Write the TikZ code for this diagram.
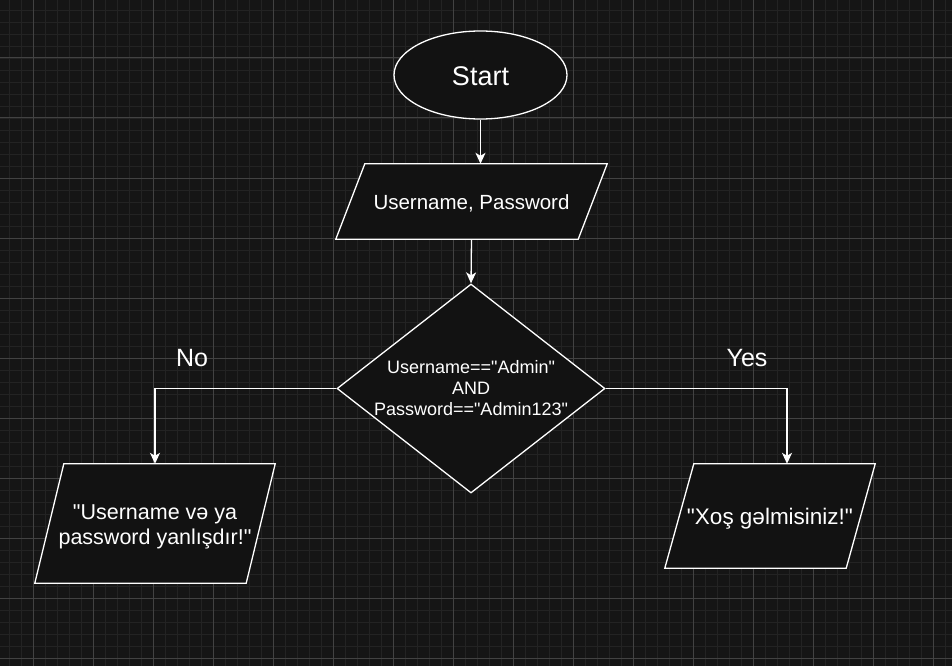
\documentclass[tikz,border=0pt]{standalone}
\usepackage{fontspec}
\setmainfont{Liberation Sans}[Ligatures=TeXOff]
\usetikzlibrary{shapes.geometric,arrows.meta,calc}
\pgfdeclarelayer{bg}
\pgfdeclarelayer{shp}
\pgfsetlayers{bg,shp,main}
\definecolor{bgc}{HTML}{151515}
\definecolor{shapefill}{HTML}{121212}
\definecolor{minorgrid}{HTML}{232323}
\definecolor{majorgrid}{HTML}{424242}
\begin{document}
\begin{tikzpicture}[x=1pt,y=-1pt,
  outline/.style={draw=white,line width=1.3pt,fill=shapefill},
  txt/.style={text=white,align=center,inner sep=0pt},
  conn/.style={draw=white,line width=1.3pt,-{Stealth[length=11pt,width=10pt,inset=3pt]}},
  lbl/.style={text=white,font=\fontsize{25}{30}\selectfont,inner sep=0pt}]
\useasboundingbox (0,0) rectangle (952,666);
\begin{pgfonlayer}{bg}
  \fill[bgc] (0,0) rectangle (952,666);
  \foreach \x in {9,21,...,945} \draw[minorgrid,line width=0.8pt] (\x,0) -- (\x,666);
  \foreach \y in {10,22,...,658} \draw[minorgrid,line width=0.8pt] (0,\y) -- (952,\y);
  \foreach \x in {33,93,...,933} \draw[majorgrid,line width=1pt] (\x,0) -- (\x,666);
  \foreach \y in {58,118,...,658} \draw[majorgrid,line width=1pt] (0,\y) -- (952,\y);
\end{pgfonlayer}

% nodes
\node[outline,ellipse,minimum width=173pt,minimum height=88pt,inner sep=0pt] (start) at (480.5,75) {};
\node[txt,font=\fontsize{27}{32}\selectfont] (starttext) at ([yshift=-1pt]start.center) {Start};
\node[minimum width=242pt,minimum height=75pt,inner sep=0pt] (inp) at (471.5,201.5) {};
\node[txt,font=\fontsize{20.5}{24}\selectfont] (inptext) at ([yshift=-1.5pt]inp.center) {Username, Password};
\node[outline,diamond,minimum width=268pt,minimum height=209pt,inner sep=0pt] (dec) at (471,388.5) {};
\node[txt,font=\fontsize{18}{21}\selectfont] (dectext) at (dec.center)
      {Username=="Admin"\\AND\\Password=="Admin123"};
\node[minimum width=211pt,minimum height=119pt,inner sep=0pt] (err) at (155,523.5) {};
\node[txt,font=\fontsize{21.5}{25}\selectfont] (errtext) at ([yshift=-3.5pt]err.center)
      {"Username və ya\\password yanlışdır!"};
\node[minimum width=181pt,minimum height=104pt,inner sep=0pt] (ok) at (770,516) {};
\node[txt,font=\fontsize{22.5}{27}\selectfont] (oktext) at ([yshift=-2.5pt]ok.center) {"Xoş gəlmisiniz!"};

% parallelogram outlines
\begin{pgfonlayer}{shp}
  \foreach \n in {inp,err,ok}{
    \path[outline] ($(\n.north west)+(14.5,0)$) -- ($(\n.north east)+(14.5,0)$)
      -- ($(\n.south east)+(-14.5,0)$) -- ($(\n.south west)+(-14.5,0)$) -- cycle;
  }
\end{pgfonlayer}

% connectors
\draw[conn] (start.south) -- (start.south |- inp.north);
\draw[conn] (inp.south) -- (dec.north);
\draw[conn] (dec.west) -| (err.north);
\draw[conn] (dec.east) -| ([xshift=17pt]ok.north);

% labels
\node[lbl] (no) at (192,358) {No};
\node[lbl] (yes) at (747,358) {Yes};
\end{tikzpicture}
\end{document}
